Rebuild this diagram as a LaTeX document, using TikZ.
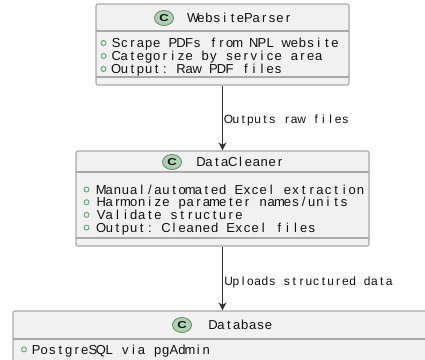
\documentclass[tikz,border=0pt]{standalone}
\usepackage{fontspec}
\setmainfont{Liberation Sans}
\usetikzlibrary{shapes.geometric,arrows.meta}
\definecolor{boxfill}{HTML}{F1F1F1}
\definecolor{boxline}{HTML}{A8A8A8}
\definecolor{badgefill}{HTML}{ADD1B2}
\definecolor{badgeline}{HTML}{6E8F72}
\definecolor{bulletcol}{HTML}{5FA86B}
\definecolor{txt}{HTML}{111111}
\definecolor{arrowcol}{HTML}{333333}
\ExplSyntaxOn
\NewDocumentCommand \monotext { m m m }
  {
    \group_begin:
    \fontsize{#2}{#2}\selectfont
    \str_map_inline:nn {#3} { \makebox[#1][c]{##1} }
    \group_end:
  }
\ExplSyntaxOff
\newcommand\bodytxt[1]{\monotext{8.1pt}{13}{#1}}
\newcommand\hdrtxt[1]{\monotext{7.9pt}{13}{#1}}
\newcommand\lbltxt[1]{\monotext{7.3pt}{12}{#1}}
\tikzset{
  classbox/.style={draw=boxline, fill=boxfill, line width=1.1pt, rounded corners=2pt, inner sep=0pt, rectangle},
  sepline/.style={draw=boxline, line width=1.1pt},
  cbadge/.style={ellipse, draw=badgeline, fill=badgefill, line width=0.9pt, minimum width=19pt, minimum height=15pt, inner sep=0pt, font=\bfseries, text=txt},
  bullet/.style={circle, draw=bulletcol, line width=0.9pt, minimum size=5pt, inner sep=0pt},
  rowtxt/.style={anchor=base west, inner sep=0pt, text=txt, yshift=-4.6pt},
  flow/.style={draw=arrowcol, line width=0.9pt, -{Stealth[length=8pt,width=8pt,inset=2.5pt]}},
}
\begin{document}
\begin{tikzpicture}[x=1pt,y=-1pt]
\useasboundingbox (0,0) rectangle (425,359);
% WebsiteParser
\node[classbox, minimum width=253pt, minimum height=81pt] (wp) at (222.5,44.5) {};
\draw[sepline] (96,31) -- (349,31);
\draw[sepline] (96,77) -- (349,77);
\node[cbadge] (wpc) at (164,18) {\scalebox{1.3}[1]{C}};
\node[rowtxt] (wph) at (189,18) {\hdrtxt{WebsiteParser}};
\node[bullet] (wpb1) at (103.5,43) {};
\node[bullet] (wpb2) at (103.5,56) {};
\node[bullet] (wpb3) at (103.5,69) {};
\node[rowtxt] (wpr1) at (112,43) {\bodytxt{Scrape PDFs from NPL website}};
\node[rowtxt] (wpr2) at (112,56) {\bodytxt{Categorize by service area}};
\node[rowtxt] (wpr3) at (112,69) {\bodytxt{Output: Raw PDF files}};
% DataCleaner
\node[classbox, minimum width=293pt, minimum height=95pt] (dc) at (222.5,198.5) {};
\draw[sepline] (76,172) -- (369,172);
\draw[sepline] (76,238) -- (369,238);
\node[cbadge] (dcc) at (172,162) {\scalebox{1.3}[1]{C}};
\node[rowtxt] (dch) at (197,162) {\hdrtxt{DataCleaner}};
\node[bullet] (dcb1) at (86.5,189.5) {};
\node[bullet] (dcb2) at (86.5,202.2) {};
\node[bullet] (dcb3) at (86.5,214.9) {};
\node[bullet] (dcb4) at (86.5,227.6) {};
\node[rowtxt] (dcr1) at (97,189.5) {\bodytxt{Manual/automated Excel extraction}};
\node[rowtxt] (dcr2) at (97,202.2) {\bodytxt{Harmonize parameter names/units}};
\node[rowtxt] (dcr3) at (97,214.9) {\bodytxt{Validate structure}};
\node[rowtxt] (dcr4) at (97,227.6) {\bodytxt{Output: Cleaned Excel files}};
% Database
\node[classbox, minimum width=418pt, minimum height=70pt] (db) at (222,346) {};
\draw[sepline] (13,339) -- (431,339);
\node[cbadge] (dbc) at (182,325) {\scalebox{1.3}[1]{C}};
\node[rowtxt] (dbh) at (209,325) {\hdrtxt{Database}};
\node[bullet] (dbb1) at (24,349.5) {};
\node[rowtxt] (dbr1) at (32,349.5) {\bodytxt{PostgreSQL via pgAdmin}};
% connectors
\draw[flow] (wp.south) -- node[rowtxt, pos=0.52, xshift=2pt] (l1) {\lbltxt{Outputs raw files}} (dc.north);
\draw[flow] (dc.south) -- node[rowtxt, pos=0.54, xshift=2pt] (l2) {\lbltxt{Uploads structured data}} (db.north -| dc.south);
\end{tikzpicture}
\end{document}
